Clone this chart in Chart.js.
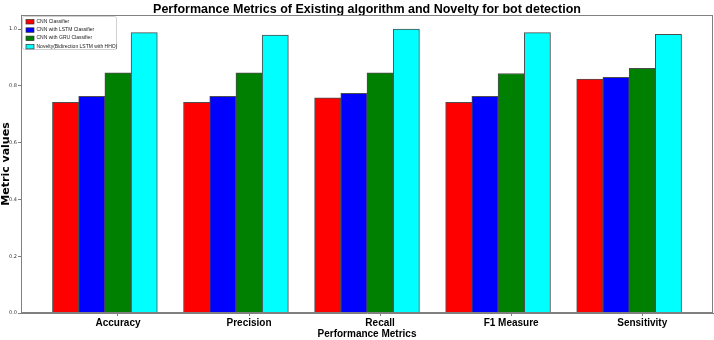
<!DOCTYPE html>
<html>
<head>
<meta charset="utf-8">
<script src="https://cdn.jsdelivr.net/npm/chart.js@4.4.1/dist/chart.umd.min.js"></script>
<style>
    html, body { margin: 0; padding: 0; background: #fff; }
    #wrap { width: 714px; height: 340px; }
</style>
</head>
<body>
<div id="wrap"><canvas id="metrics-chart" width="714" height="340"></canvas></div>
<script>
var categories = ['Accuracy', 'Precision', 'Recall', 'F1 Measure', 'Sensitivity'];
var seriesNames = [
    'CNN Classifier',
    'CNN with LSTM Classifier',
    'CNN with GRU Classifier',
    'Novelty(Bidirection LSTM with HHO)'
];
var cnnValues = [0.742, 0.742, 0.758, 0.742, 0.824];
var cnnLstmValues = [0.763, 0.763, 0.774, 0.763, 0.830];
var cnnGruValues = [0.846, 0.846, 0.846, 0.844, 0.862];
var noveltyValues = [0.988, 0.979, 1.0, 0.988, 0.982];
var yTickValues = [0.0, 0.2, 0.4, 0.6, 0.8, 1.0];

(function () {
    var barWidth = 0.2;
    var colors = ['#ff0000', '#0000ff', '#008000', '#00ffff'];
    var allValues = [cnnValues, cnnLstmValues, cnnGruValues, noveltyValues];
    var axisColor = '#808080';
    var sans = '"Liberation Sans", Arial, sans-serif';

    // bars sit at index + k * barWidth, like a matplotlib grouped bar plot
    var datasets = allValues.map(function (vals, k) {
        return {
            label: seriesNames[k],
            data: vals.map(function (v, i) {
                return { x: i + k * barWidth, y: v };
            }),
            backgroundColor: colors[k],
            borderColor: '#4d4d4d',
            borderWidth: 1,
            grouped: false,
            categoryPercentage: 1,
            barPercentage: 1,
        };
    });

    var frameAndLegend = {
        id: 'frameAndLegend',
        afterDraw: function (chart) {
            var ctx = chart.ctx;
            var a = chart.chartArea;
            ctx.save();
            ctx.strokeStyle = axisColor;
            ctx.lineWidth = 1;
            ctx.strokeRect(a.left + 0.5, a.top + 0.5, a.right - a.left - 1, a.bottom - a.top - 1);

            // legend in the upper left corner
            var lx = a.left, ly = a.top;
            ctx.fillStyle = 'rgba(255,255,255,0.8)';
            ctx.strokeStyle = '#d0d0d0';
            ctx.beginPath();
            ctx.roundRect(lx + 1.5, ly + 1.5, 94, 33, 2);
            ctx.fill();
            ctx.stroke();
            ctx.font = '5px ' + sans;
            ctx.textBaseline = 'middle';
            chart.data.datasets.forEach(function (ds, k) {
                var y = ly + 6.5 + k * 8.3;
                ctx.fillStyle = ds.backgroundColor;
                ctx.fillRect(lx + 5, y - 2, 8, 4.5);
                ctx.strokeStyle = '#333';
                ctx.lineWidth = 0.7;
                ctx.strokeRect(lx + 5, y - 2, 8, 4.5);
                ctx.fillStyle = '#222';
                ctx.fillText(ds.label, lx + 15.5, y);
            });
            ctx.restore();
        }
    };

    new Chart(document.getElementById('metrics-chart').getContext('2d'), {
        type: 'bar',
        data: { datasets: datasets },
        plugins: [frameAndLegend],
        options: {
            responsive: false,
            animation: false,
            layout: { padding: { top: 0, right: 1, bottom: 0, left: 0 } },
            plugins: {
                legend: { display: false },
                tooltip: { enabled: false },
                title: {
                    display: true,
                    fullSize: false,
                    text: 'Performance Metrics of Existing algorithm and Novelty for bot detection',
                    color: '#000',
                    font: { family: sans, size: 12.5, weight: 'bold', lineHeight: 11 / 12.5 },
                    padding: { top: 4, bottom: 0 },
                },
            },
            scales: {
                x: {
                    type: 'linear',
                    min: -0.34,
                    max: 4.94,
                    offset: false,
                    afterBuildTicks: function (scale) {
                        scale.ticks = categories.map(function (c, i) {
                            return { value: i + 2 * barWidth };
                        });
                    },
                    afterFit: function (scale) { scale.height = 27; },
                    ticks: {
                        autoSkip: false,
                        maxRotation: 0,
                        padding: 1,
                        color: '#000',
                        font: { family: sans, size: 10, weight: 'bold' },
                        callback: function (value, index) { return categories[index]; },
                    },
                    grid: { drawOnChartArea: false, offset: false, tickLength: 3, color: axisColor },
                    border: { color: axisColor },
                    title: {
                        display: true,
                        text: 'Performance Metrics',
                        color: '#000',
                        padding: 0,
                        font: { family: sans, size: 10, weight: 'bold' },
                    },
                },
                y: {
                    min: 0,
                    max: 1.05,
                    afterBuildTicks: function (scale) {
                        scale.ticks = yTickValues.map(function (v) { return { value: v }; });
                    },
                    afterFit: function (scale) { scale.width = 21; },
                    ticks: {
                        padding: 1,
                        color: '#333',
                        font: { family: '"DejaVu Sans", sans-serif', size: 5 },
                        callback: function (value) { return value.toFixed(1); },
                    },
                    grid: { drawOnChartArea: false, tickLength: 3, color: axisColor },
                    border: { color: axisColor },
                    title: {
                        display: true,
                        text: 'Metric values',
                        color: '#000',
                        padding: { top: 0, bottom: 0 },
                        font: { family: '"DejaVu Sans", sans-serif', size: 11, weight: 'bold' },
                    },
                },
            },
        },
    });
})();
</script>
</body>
</html>
